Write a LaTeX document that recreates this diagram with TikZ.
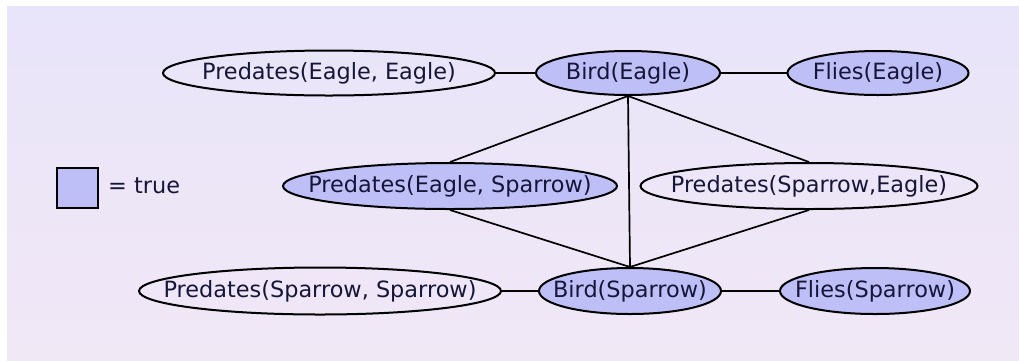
\documentclass[tikz,border=0pt]{standalone}
\usepackage{fontspec}
\setmainfont{DejaVu Sans}
\usetikzlibrary{shapes.geometric}

\definecolor{bgtop}{RGB}{232,228,249}
\definecolor{bgbottom}{RGB}{241,232,246}
\definecolor{truefill}{RGB}{191,191,248}
\definecolor{labelink}{RGB}{22,22,56}

\tikzset{
  atom/.style={ellipse, draw=black, line width=2pt, inner sep=0pt},
  trueatom/.style={atom, fill=truefill},
  falseatom/.style={atom},
  atomtext/.style={text=labelink, font=\fontsize{22.4}{26}\selectfont, inner sep=0pt},
  link/.style={draw=black, line width=1.7pt},
}

\begin{document}
\begin{tikzpicture}[x=1pt, y=-1pt]
  \useasboundingbox (0,0) rectangle (1019,360);
  \shade[top color=bgtop, bottom color=bgbottom] (7,6) rectangle (1025,366);

  % top row
  \node[falseatom, minimum width=332pt, minimum height=45pt] (pee) at (329,73) {};
  \node[trueatom,  minimum width=184pt, minimum height=44pt] (be)  at (628,73) {};
  \node[trueatom,  minimum width=181pt, minimum height=44pt] (fe)  at (878,73) {};
  % middle row
  \node[trueatom,  minimum width=334pt, minimum height=46pt] (pes) at (450,186) {};
  \node[falseatom, minimum width=337pt, minimum height=46pt] (pse) at (809,186) {};
  % bottom row
  \node[falseatom, minimum width=362pt, minimum height=47pt] (pss) at (320,291) {};
  \node[trueatom,  minimum width=182pt, minimum height=46pt] (bs)  at (630,291) {};
  \node[trueatom,  minimum width=190pt, minimum height=46pt] (fs)  at (875,291) {};

  % labels
  \node[atomtext] (tpee) at (pee.center) {Predates(Eagle, Eagle)};
  \node[atomtext] (tbe)  at (be.center)  {Bird(Eagle)};
  \node[atomtext] (tfe)  at (fe.center)  {Flies(Eagle)};
  \node[atomtext] (tpes) at (pes.center) {Predates(Eagle, Sparrow)};
  \node[atomtext] (tpse) at (pse.center) {Predates(Sparrow,Eagle)};
  \node[atomtext] (tpss) at (pss.center) {Predates(Sparrow, Sparrow)};
  \node[atomtext] (tbs)  at (bs.center)  {Bird(Sparrow)};
  \node[atomtext] (tfs)  at (fs.center)  {Flies(Sparrow)};

  % connectors
  \path[link] (pee.east) -- (be.west);
  \path[link] (be.east) -- (fe.west);
  \path[link] (be.south) -- (pes.north);
  \path[link] (be.south) -- (bs.north);
  \path[link] (be.south) -- (pse.north);
  \path[link] (pes.south) -- (bs.north);
  \path[link] (pse.south) -- (bs.north);
  \path[link] (pss.east) -- (bs.west);
  \path[link] (bs.east) -- (fs.west);

  % legend
  \node[draw=black, line width=2pt, fill=truefill, minimum width=41pt, minimum height=40pt, inner sep=0pt] (key) at (77,187.5) {};
  \node[atomtext, anchor=west] (keytext) at (108,186) {= true};
\end{tikzpicture}
\end{document}
